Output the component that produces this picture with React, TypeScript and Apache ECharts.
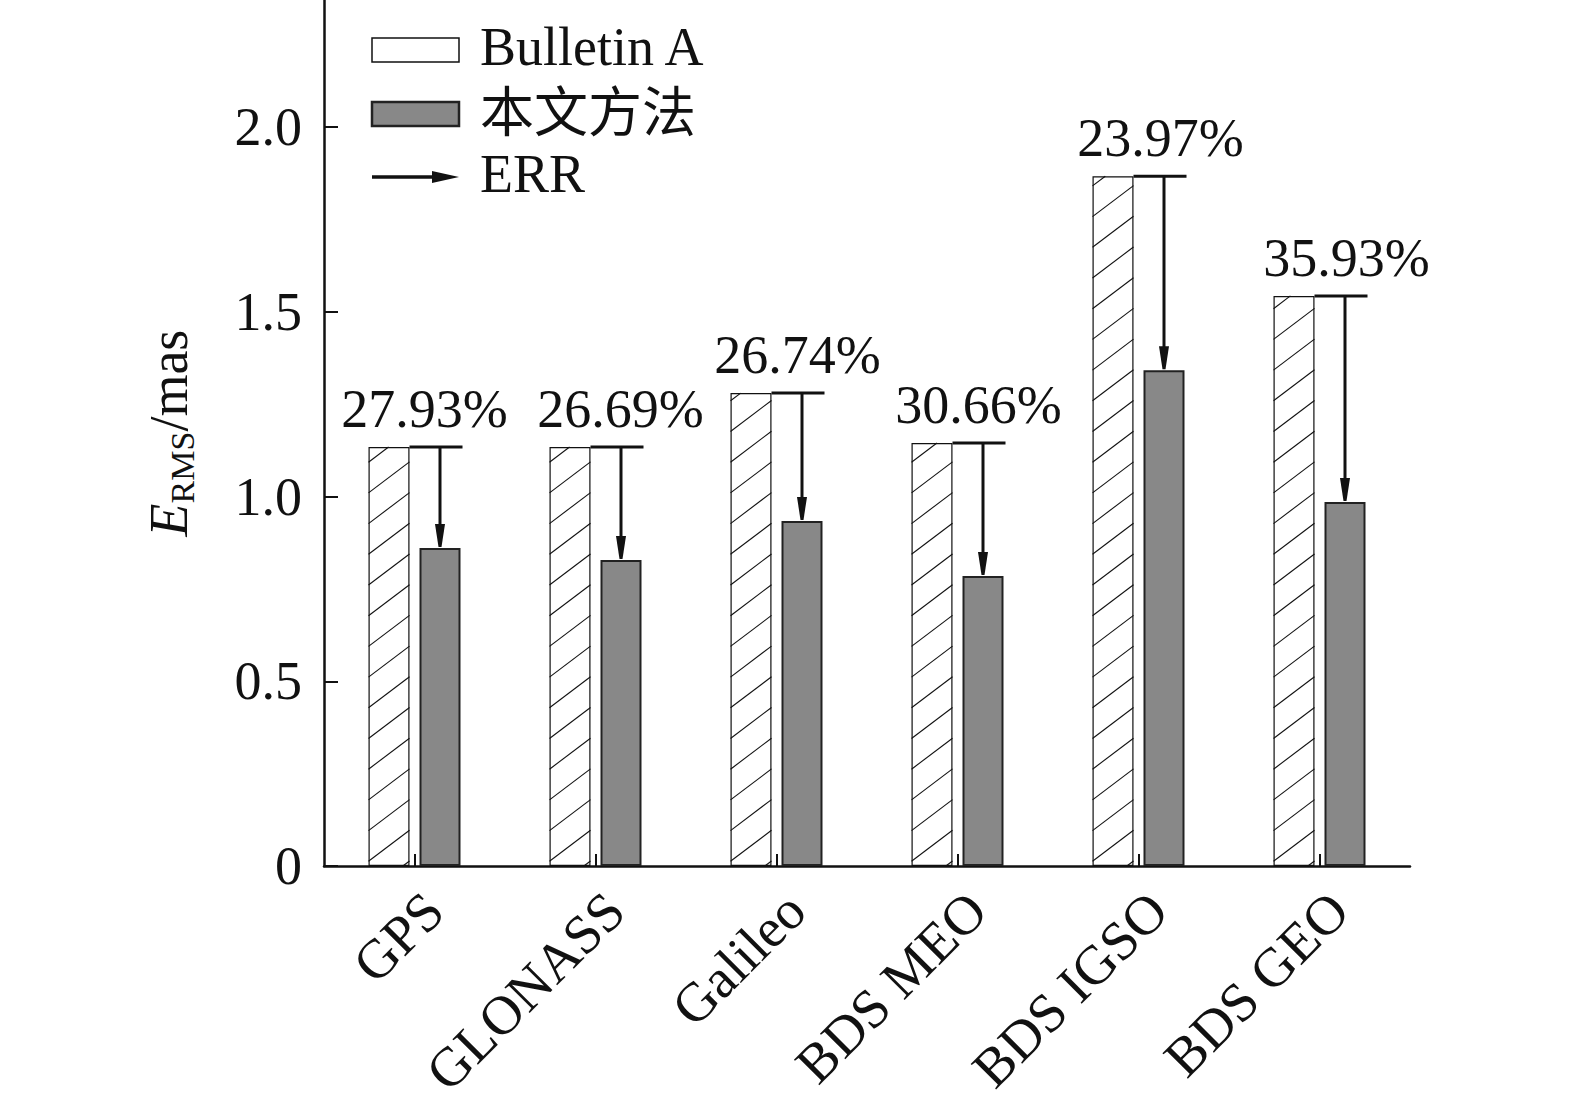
import React, { useEffect, useRef } from "react";
import * as echarts from "echarts";

// ---- data ----
const categories = ["GPS", "GLONASS", "Galileo", "BDS MEO", "BDS IGSO", "BDS GEO"];
const bulletinA = [1.134, 1.134, 1.28, 1.145, 1.867, 1.543];
const method = [0.861, 0.828, 0.934, 0.785, 1.342, 0.985];
const improvement = ["27.93%", "26.69%", "26.74%", "30.66%", "23.97%", "35.93%"];
const yTicks = [0, 0.5, 1.0, 1.5, 2.0];
const yMax = 2.344;

// ---- styling ----
const LABEL_DX = [10, 25, 21, 21, 22, 27];
const FONT = "'Liberation Serif', 'Times New Roman', serif";
const CJK = "'Liberation Serif', 'Noto Sans CJK SC', serif";
const INK = "#111111";
const BAR_W = 41;
const BAR_GAP = 10;
const HALF = (BAR_W + BAR_GAP) / 2;
const FS = 54;

function renderOverlay(params: any, api: any) {
  const i = api.value(0);
  const vb = api.value(1);
  const vm = api.value(2);
  const idx = params.dataIndex;
  const [cx, yB] = api.coord([i, vb]);
  const [, yM] = api.coord([i, vm]);
  const [, y0] = api.coord([i, 0]);
  const children: any[] = [];

  // hatch lines in the Bulletin A bar
  const x0 = cx - HALF - BAR_W / 2;
  const x1 = cx - HALF + BAR_W / 2;
  const w = x1 - x0;
  const rise = 31;
  const spacing = 30.7;
  for (let yr = y0 - 5; yr + rise > yB; yr -= spacing) {
    const yl = yr + rise;
    const tMin = Math.max(0, (yl - y0) / rise);
    const tMax = Math.min(1, (yl - yB) / rise);
    if (tMin < tMax) {
      children.push({
        type: "line",
        shape: {
          x1: x0 + tMin * w,
          y1: yl - tMin * rise,
          x2: x0 + tMax * w,
          y2: yl - tMax * rise,
        },
        style: { stroke: INK, lineWidth: 1.1 },
      });
    }
  }

  // ERR arrow
  const ax = cx + HALF;
  children.push({
    type: "line",
    shape: { x1: x1, y1: yB, x2: cx + HALF + BAR_W / 2 + 2, y2: yB },
    style: { stroke: INK, lineWidth: 3 },
  });
  children.push({
    type: "line",
    shape: { x1: ax, y1: yB, x2: ax, y2: yM - 18 },
    style: { stroke: INK, lineWidth: 3 },
  });
  children.push({
    type: "polygon",
    shape: {
      points: [
        [ax - 5, yM - 24],
        [ax + 5, yM - 24],
        [ax + 1.5, yM - 1],
        [ax - 1.5, yM - 1],
      ],
    },
    style: { fill: INK },
  });

  // percentage label
  children.push({
    type: "text",
    x: cx + LABEL_DX[idx],
    y: yB - 38,
    style: {
      text: improvement[idx],
      fill: INK,
      font: `${FS}px ${FONT}`,
      align: "center",
      verticalAlign: "middle",
      textAlign: "center",
      textVerticalAlign: "middle",
    },
  });

  return { type: "group", children };
}

export default function App() {
  const ref = useRef<HTMLDivElement>(null);

  useEffect(() => {
    if (!ref.current) return;
    const chart = echarts.init(ref.current, undefined, { renderer: "svg" });

    const overlayData = categories.map((_, i) => [i, bulletinA[i], method[i]]);

    chart.setOption({
      animation: false,
      backgroundColor: "#ffffff",
      grid: {
        left: 324,
        right: 165,
        top: 0,
        bottom: 242,
        containLabel: false,
        outerBoundsMode: "none",
      },
      xAxis: {
        type: "category",
        data: categories,
        axisLine: { show: true, lineStyle: { color: INK, width: 2.5 } },
        axisTick: {
          show: true,
          inside: true,
          alignWithLabel: true,
          length: 12,
          lineStyle: { color: INK, width: 2 },
        },
        axisLabel: {
          interval: 0,
          rotate: 45,
          margin: 16,
          verticalAlign: "top",
          color: INK,
          fontFamily: FONT,
          fontSize: 55,
        },
        splitLine: { show: false },
      },
      yAxis: {
        type: "value",
        min: 0,
        max: yMax,
        interval: 0.5,
        name: "{e|E}{s|RMS}{n|/mas}",
        nameLocation: "middle",
        nameRotate: 90,
        nameGap: 125,
        nameTextStyle: {
          color: INK,
          fontFamily: FONT,
          fontSize: FS,
          rich: {
            e: { fontFamily: FONT, fontSize: FS, fontStyle: "italic", lineHeight: 60, color: INK },
            s: { fontFamily: FONT, fontSize: 34, lineHeight: 36, verticalAlign: "bottom", color: INK },
            n: { fontFamily: FONT, fontSize: FS, lineHeight: 60, color: INK },
          },
        },
        axisLine: { show: true, lineStyle: { color: INK, width: 2.5 } },
        axisTick: {
          show: true,
          inside: true,
          length: 14,
          customValues: yTicks,
          lineStyle: { color: INK, width: 2 },
        },
        axisLabel: {
          customValues: yTicks,
          margin: 22,
          color: INK,
          fontFamily: FONT,
          fontSize: FS,
          formatter: (v: number) => (v === 0 ? "0" : v.toFixed(1)),
        },
        splitLine: { show: false },
      },
      series: [
        {
          name: "Bulletin A",
          type: "bar",
          data: bulletinA,
          barWidth: BAR_W,
          barGap: `${(BAR_GAP / BAR_W) * 100}%`,
          itemStyle: { color: "#ffffff", borderColor: INK, borderWidth: 1.2 },
          z: 2,
        },
        {
          name: "本文方法",
          type: "bar",
          data: method,
          barWidth: BAR_W,
          itemStyle: { color: "#888888", borderColor: "#222222", borderWidth: 2 },
          z: 2,
        },
        {
          type: "custom",
          data: overlayData,
          encode: { x: 0, y: [1, 2] },
          renderItem: renderOverlay,
          z: 5,
          silent: true,
        },
      ],
      graphic: [
        {
          type: "rect",
          shape: { x: 372, y: 38, width: 87, height: 24 },
          style: { fill: "#ffffff", stroke: INK, lineWidth: 1.5 },
        },
        {
          type: "text",
          x: 480,
          y: 47,
          style: {
            text: "Bulletin A",
            fill: INK,
            font: `${FS}px ${FONT}`,
            align: "left",
            verticalAlign: "middle",
            textAlign: "left",
            textVerticalAlign: "middle",
          },
        },
        {
          type: "rect",
          shape: { x: 372, y: 102, width: 87, height: 24 },
          style: { fill: "#888888", stroke: "#222222", lineWidth: 2.5 },
        },
        {
          type: "text",
          x: 480,
          y: 114,
          style: {
            text: "本文方法",
            fill: INK,
            font: `${FS}px ${CJK}`,
            align: "left",
            verticalAlign: "middle",
            textAlign: "left",
            textVerticalAlign: "middle",
          },
        },
        {
          type: "line",
          shape: { x1: 372, y1: 177, x2: 440, y2: 177 },
          style: { stroke: INK, lineWidth: 3.5 },
        },
        {
          type: "polygon",
          shape: {
            points: [
              [432, 171],
              [459, 177],
              [432, 183],
            ],
          },
          style: { fill: INK },
        },
        {
          type: "text",
          x: 480,
          y: 174,
          style: {
            text: "ERR",
            fill: INK,
            font: `${FS}px ${FONT}`,
            align: "left",
            verticalAlign: "middle",
            textAlign: "left",
            textVerticalAlign: "middle",
          },
        },
      ],
    });

    return () => chart.dispose();
  }, []);

  return (
    <div
      ref={ref}
      style={{ position: "absolute", left: 0, top: 0, width: 1575, height: 1108 }}
    />
  );
}
